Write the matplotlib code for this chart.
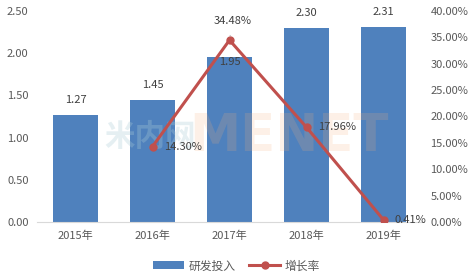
import matplotlib
matplotlib.use("Agg")
import matplotlib.pyplot as plt
from matplotlib.ticker import FuncFormatter

plt.rcParams['font.family'] = ['Noto Sans CJK SC', 'DejaVu Sans']
plt.rcParams['font.size'] = 8

years = ["2015年", "2016年", "2017年", "2018年", "2019年"]
rd_invest = [1.27, 1.45, 1.95, 2.30, 2.31]
growth = [None, 14.30, 34.48, 17.96, 0.41]

bar_color = "#4F81BD"
line_color = "#C0504D"
text_color = "#595959"

fig = plt.figure(figsize=(4.73, 2.77), dpi=100)
ax = fig.add_axes([37 / 473, 55 / 277, 385 / 473, 211 / 277])
ax2 = ax.twinx()

x = list(range(len(years)))
bars = ax.bar(x, rd_invest, width=0.58, color=bar_color, zorder=2, label="研发投入")
ax.set_xlim(-0.5, len(years) - 0.5)
ax.set_ylim(0, 2.5)
ax.set_yticks([0, 0.5, 1.0, 1.5, 2.0, 2.5])
ax.yaxis.set_major_formatter(FuncFormatter(lambda v, p: "%.2f" % v))
ax.set_xticks(x)
ax.set_xticklabels(years)

for i, v in enumerate(rd_invest):
    off = 10.5 if i != 2 else -3
    ax.annotate("%.2f" % v, (i, v), xytext=(0, off), textcoords="offset points",
                ha="center", va="center", color="#404040", fontsize=8, zorder=5)

# faint watermark, over the bars but under the line
ax.text(150 / 473, 0.505, "米内网", fontsize=22, color="#A9CBD6", alpha=0.3,
        ha="center", va="center", fontweight="bold", zorder=4,
        transform=fig.transFigure)
ax.text(289 / 473, 0.505, "MENET", fontsize=37, color="#F7B07A", alpha=0.18,
        ha="center", va="center", fontweight="bold", family="DejaVu Sans", zorder=4,
        transform=fig.transFigure)

gx = [i for i, g in enumerate(growth) if g is not None]
gy = [g for g in growth if g is not None]
ax2.plot(gx, gy, color=line_color, linewidth=2.2, marker="o", markersize=5,
         zorder=3, label="增长率")
ax2.set_ylim(0, 40)
ax2.set_yticks(range(0, 41, 5))
ax2.yaxis.set_major_formatter(FuncFormatter(lambda v, p: "%.2f%%" % v))

for i, g in zip(gx, gy):
    if g > 30:
        ax2.annotate("%.2f%%" % g, (i, g), xytext=(2, 14), textcoords="offset points",
                     ha="center", va="center", color="#404040", fontsize=8,
                     arrowprops=dict(arrowstyle="-", color="#A6A6A6", lw=0.6,
                                     shrinkA=5, shrinkB=3))
    else:
        ax2.annotate("%.2f%%" % g, (i, g), xytext=(8, 0), textcoords="offset points",
                     ha="left", va="center", color="#404040", fontsize=8)

for a in (ax, ax2):
    for s in a.spines.values():
        s.set_visible(False)
    a.tick_params(length=0, colors=text_color, labelsize=8)
ax.spines['bottom'].set_visible(True)
ax.spines['bottom'].set_color("#D9D9D9")
ax.tick_params(axis='x', pad=6)
ax.tick_params(axis='y', pad=6)
ax2.tick_params(axis='y', pad=6)

h1, l1 = ax.get_legend_handles_labels()
h2, l2 = ax2.get_legend_handles_labels()
leg = fig.legend(h1 + h2, l1 + l2, loc="center", bbox_to_anchor=(0.5, 0.04), ncol=2,
                 frameon=False, fontsize=8.5, handlelength=2.6, columnspacing=1.2,
                 handletextpad=0.4)
for t in leg.get_texts():
    t.set_color(text_color)

fig.savefig("out.png", dpi=100)
